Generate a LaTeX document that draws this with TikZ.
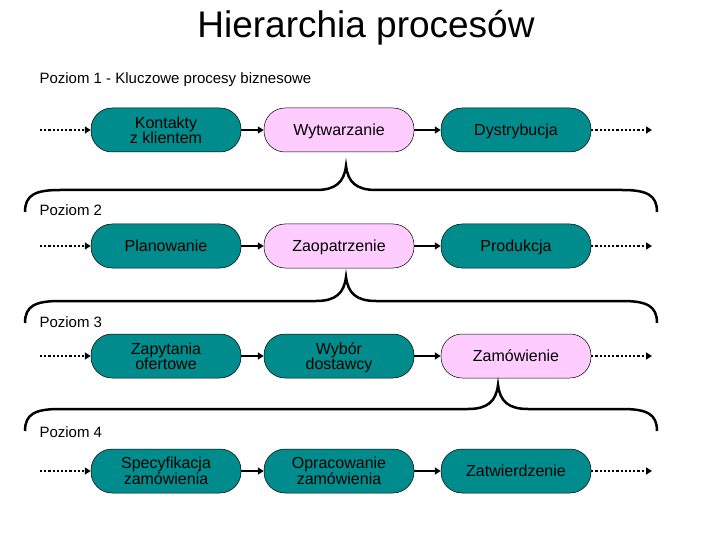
\documentclass[tikz,border=0pt]{standalone}
\usepackage{fontspec}
\setmainfont{Liberation Sans}
\usetikzlibrary{arrows.meta}
\definecolor{teal1}{RGB}{0,140,140}
\definecolor{pink1}{RGB}{255,204,255}
\begin{document}
\begin{tikzpicture}[x=1pt,y=-1pt,
 box/.style={draw=black,line width=0.5pt,rounded corners=21pt,minimum width=150pt,minimum height=44pt,inner sep=1pt,align=center,font=\fontsize{16}{15}\selectfont,text depth=0pt},
 tb/.style={box,fill=teal1},
 pb/.style={box,fill=pink1},
 sa/.style={line width=2.2pt,-{Triangle[length=6pt,width=7pt]}},
 da/.style={line width=2.2pt,dotted,-{Triangle[length=6pt,width=7pt]}},
 br/.style={line width=2.5pt},
 lab/.style={anchor=west,font=\fontsize{15}{15}\selectfont}]
\useasboundingbox (0,0) rectangle (720,540);
\node[font=\fontsize{37}{37}\selectfont] (title) at (366,28) {Hierarchia procesów};
\node[lab] (l1) at (36,80) {Poziom 1 - Kluczowe procesy biznesowe};
\node[lab] (l2) at (36,210) {Poziom 2};
\node[lab] (l3) at (36,322) {Poziom 3};
\node[lab] (l4) at (36,432) {Poziom 4};
\foreach \r/\y/\ta/\tb/\tc/\sa/\sb/\sc in {
 1/130/{Kontakty\\z klientem}/Wytwarzanie/Dystrybucja/tb/pb/tb,
 2/246/Planowanie/Zaopatrzenie/Produkcja/tb/pb/tb,
 3/356/{Zapytania\\ofertowe}/{Wybór\\dostawcy}/Zamówienie/tb/tb/pb,
 4/471/{Specyfikacja\\zamówienia}/{Opracowanie\\zamówienia}/Zatwierdzenie/tb/tb/tb}{
 \node[\sa] (a\r) at (166,\y) {\ta};
 \node[\sb] (b\r) at (339,\y) {\tb};
 \node[\sc] (c\r) at (516,\y) {\tc};
 \coordinate (s\r) at (40,\y);
 \coordinate (e\r) at (652,\y);
 \draw[da] (s\r) -- (a\r);
 \draw[sa] (a\r) -- (b\r);
 \draw[sa] (b\r) -- (c\r);
 \draw[da] (c\r) -- (e\r);
}
% braces
\foreach \y/\t in {190/346,301/346,409/498}{
 \draw[br] (25,\y+22) .. controls (25,\y+5) and (35,\y) .. (60,\y)
   -- (\t-30,\y) .. controls (\t-10,\y) and (\t-2,\y-8) .. (\t,\y-24)
   .. controls (\t+2,\y-8) and (\t+10,\y) .. (\t+30,\y)
   -- (622,\y) .. controls (647,\y) and (657,\y+5) .. (657,\y+22);
}
\end{tikzpicture}
\end{document}
